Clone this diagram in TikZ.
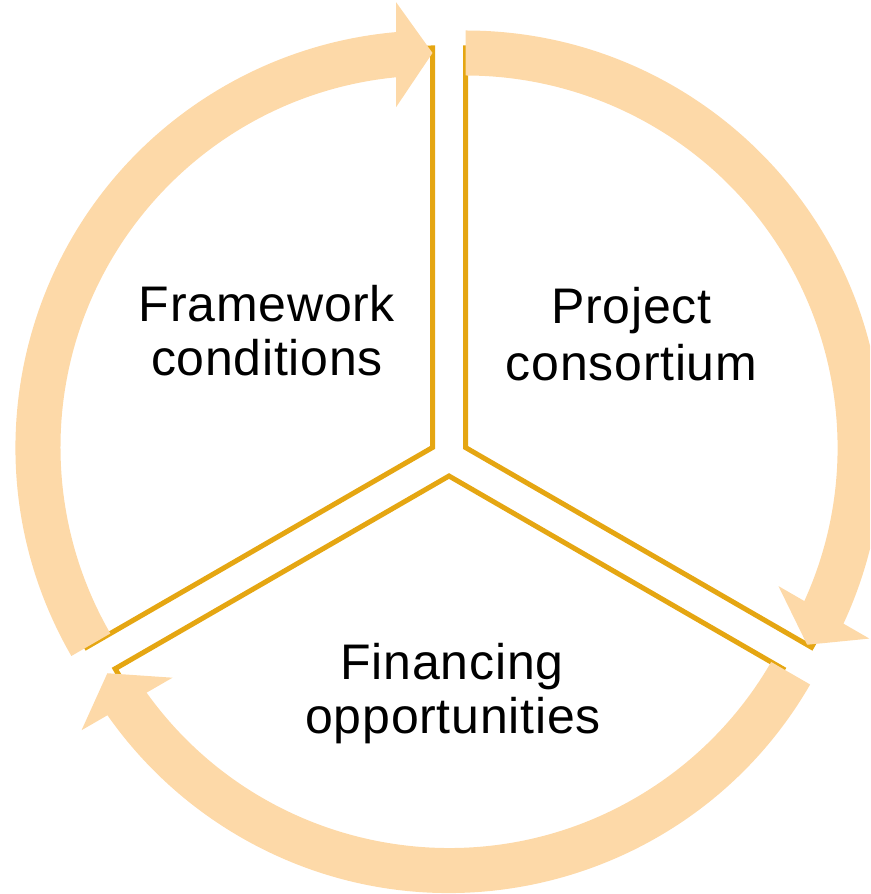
\documentclass[tikz,border=0pt]{standalone}
\usepackage{fontspec}
\setmainfont{Liberation Sans}
\usetikzlibrary{calc}
\definecolor{ringc}{RGB}{253,217,168}
\definecolor{goldc}{RGB}{229,166,18}
\newcommand{\ringseg}[3]{%
  \pgfmathsetmacro{\shaftend}{#3+3}%
  \pgfmathsetmacro{\headbase}{#3+5.3}%
  \pgfmathsetmacro{\tipback}{#3+180}%
  \fill[ring] ($(#1)+(#2:417)$) arc[start angle=#2,end angle=\shaftend,radius=417]
     -- ($(#1)+(\shaftend:372)$) arc[start angle=\shaftend,end angle=#2,radius=372] -- cycle;
  \fill[ring] ($(#1)+(#3:394.5)$) -- ($(#1)+(\headbase:394.5)+(#3:52.5)$)
     -- ($(#1)+(\headbase:394.5)+(\tipback:52.5)$) -- cycle;
}
\begin{document}
\begin{tikzpicture}[x=1pt,y=1pt,
  ring/.style={fill=ringc},
  divider/.style={draw=goldc,line width=5pt},
  lbl/.style={font=\fontsize{50}{55}\selectfont\addfontfeature{LetterSpace=1.5},anchor=base,inner sep=0pt}]
\clip (0,0) rectangle (870,894);
\coordinate (s1) at (432.5,446.5);
\coordinate (s2) at (465.5,446.5);
\coordinate (s3) at (449,418);
% sector outlines (dividers)
\draw[divider] (s1) -- ++(90:399.5) arc[start angle=90,end angle=210,radius=399.5] -- cycle;
\draw[divider] (s2) -- ++(90:399.5) arc[start angle=90,end angle=-30,radius=399.5] -- cycle;
\draw[divider] (s3) -- ++(-30:385.5) arc[start angle=-30,end angle=-150,radius=385.5] -- cycle;
% circular arrows
\ringseg{s1}{210}{90}
\ringseg{s2}{90}{-30}
\ringseg{s3}{-30}{-150}
% labels
\node[lbl] (fw1) at (267,572) {Framework};
\node[lbl] (fw2) at (267,518) {conditions};
\node[lbl] (pc1) at (631.5,570) {Project};
\node[lbl] (pc2) at (631.5,513) {consortium};
\node[lbl] (fo1) at (452,214) {Financing};
\node[lbl] (fo2) at (453,160) {opportunities};
\end{tikzpicture}
\end{document}
